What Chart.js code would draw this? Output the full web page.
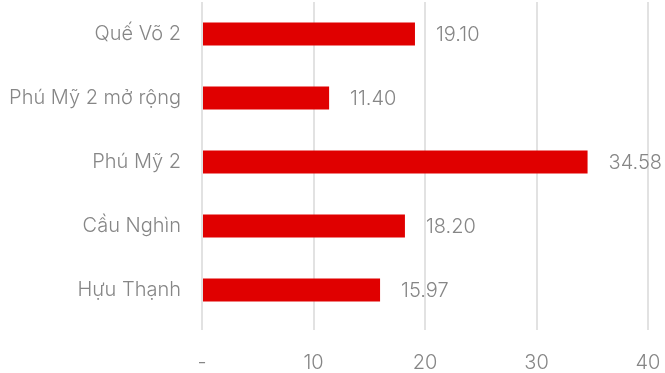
<!DOCTYPE html>
<html>
<head>
<meta charset="utf-8">
<script src="https://cdn.jsdelivr.net/npm/chart.js@4/dist/chart.umd.min.js"></script>
<style>
  html, body { margin: 0; padding: 0; background: #fff; }
  #wrap { width: 665px; height: 373px; position: relative; }
</style>
</head>
<body>
<div id="wrap"><canvas id="myChart"></canvas></div>
<script>
// data
var categories = ['Quế Võ 2', 'Phú Mỹ 2 mở rộng', 'Phú Mỹ 2', 'Cầu Nghìn', 'Hựu Thạnh'];
var values = [19.10, 11.40, 34.58, 18.20, 15.97];
var xTicks = [0, 10, 20, 30, 40];

var fontFam = 'Inter, Lato, sans-serif';
var grey = '#868686';

// value labels at the end of each bar
var valueLabels = {
  id: 'valueLabels',
  afterDatasetsDraw: function(chart) {
    var ctx = chart.ctx;
    var meta = chart.getDatasetMeta(0);
    ctx.save();
    ctx.font = '300 20px ' + fontFam;
    ctx.fillStyle = grey;
    ctx.textAlign = 'left';
    ctx.textBaseline = 'middle';
    meta.data.forEach(function(bar, i) {
      ctx.fillText(values[i].toFixed(2), bar.x + 21, bar.y + 1);
    });
    ctx.restore();
  }
};

var ctx = document.getElementById('myChart').getContext('2d');
var myChart = new Chart(ctx, {
  type: 'bar',
  data: {
    labels: categories,
    datasets: [{
      data: values,
      backgroundColor: '#e00000',
      barPercentage: 0.72,
      categoryPercentage: 0.5
    }]
  },
  options: {
    indexAxis: 'y',
    responsive: true,
    maintainAspectRatio: false,
    animation: false,
    layout: { padding: { top: 2, right: 17, left: 0, bottom: 0 } },
    plugins: { legend: { display: false }, tooltip: { enabled: false } },
    scales: {
      x: {
        min: 0,
        max: 40,
        afterBuildTicks: function(axis) {
          axis.ticks = xTicks.map(function(v) { return { value: v }; });
        },
        afterFit: function(axis) {
          axis.height = 51;
          axis.paddingTop = 0; axis.paddingBottom = 0;
          axis.paddingLeft = 0; axis.paddingRight = 0;
        },
        grid: { color: '#e2e2e2', lineWidth: 2, tickLength: 8, drawTicks: true },
        border: { display: false },
        ticks: {
          color: grey,
          padding: 21,
          font: { family: fontFam, size: 20, weight: '300' },
          callback: function(v) { return v === 0 ? '-' : v; }
        }
      },
      y: {
        afterFit: function(axis) { axis.width = 202; axis.paddingTop = 0; axis.paddingBottom = 0; },
        grid: { display: false },
        border: { display: false },
        ticks: {
          color: grey,
          padding: 13,
          font: { family: fontFam, size: 20, weight: '300' }
        }
      }
    }
  },
  plugins: [valueLabels]
});
</script>
</body>
</html>
